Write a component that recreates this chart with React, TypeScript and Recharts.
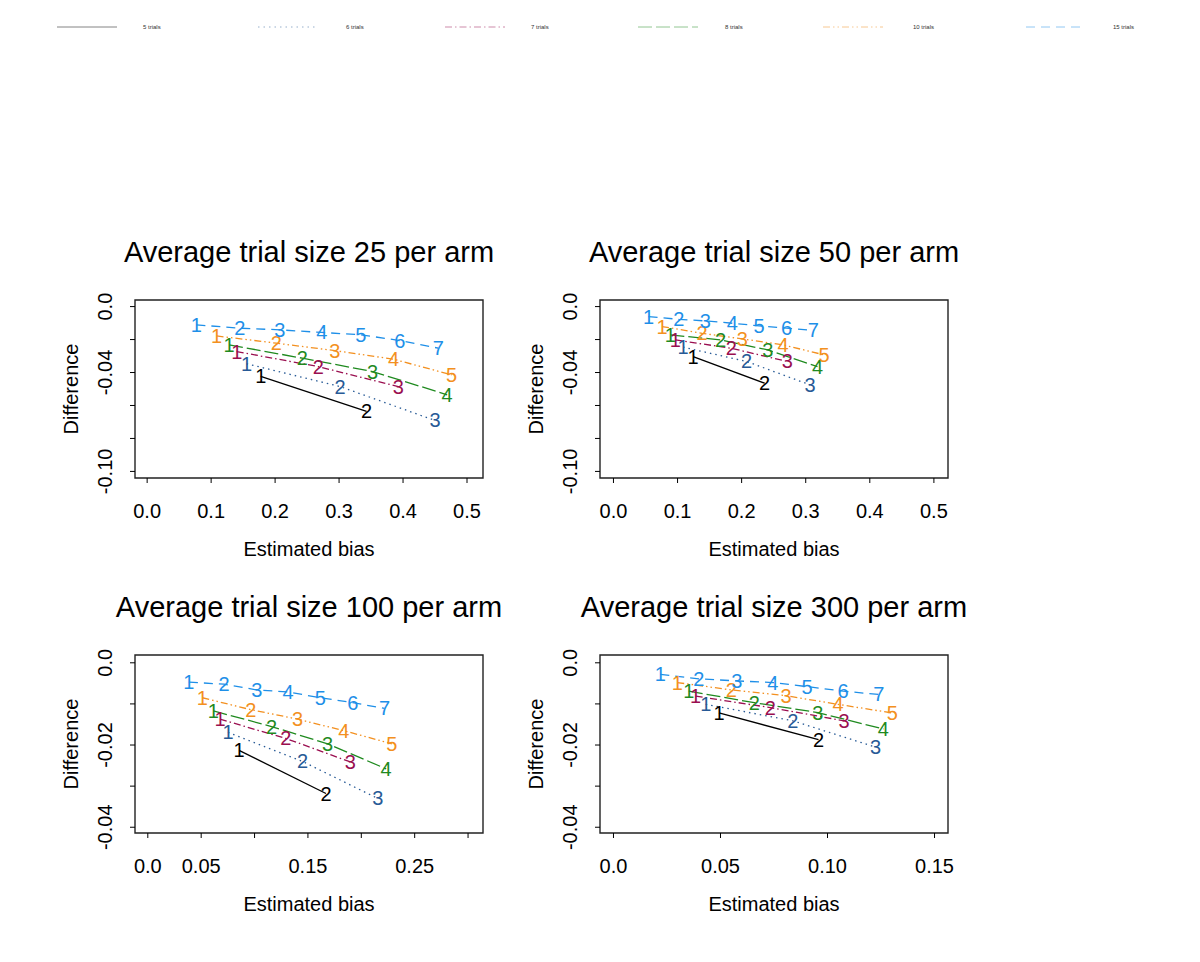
import React from "react";
import { LineChart, Line, XAxis, YAxis, LabelList, Label, ReferenceArea } from "recharts";

const FONT = '"Liberation Sans", Arial, Helvetica, sans-serif';

// trial counts shown in the legend, with the colour / line type of each series
const trialNames = ["5 trials", "6 trials", "7 trials", "8 trials", "10 trials", "15 trials"];
const trialColors = ["#000000", "#275a96", "#9a0f50", "#1f8a1f", "#f39020", "#1e8fe8"];
const trialDashes = ["", "1.5 4", "7 3 1.5 3", "14 4", "7 3 1.5 3 1.5 3", "9 6"];

// [estimated bias, difference] per series
// average trial size 25 per arm
const arm25_t5 = [[0.1775, -0.0424], [0.343, -0.0636]];
const arm25_t6 = [[0.1555, -0.0347], [0.3015, -0.0485], [0.45, -0.0691]];
const arm25_t7 = [[0.14, -0.0273], [0.2675, -0.0364], [0.3925, -0.0485]];
const arm25_t8 = [[0.128, -0.0232], [0.2425, -0.0313], [0.3525, -0.0394], [0.469, -0.0535]];
const arm25_t10 = [[0.1085, -0.0178], [0.202, -0.0222], [0.2935, -0.0267], [0.385, -0.0319], [0.476, -0.0414]];
const arm25_t15 = [[0.077, -0.0111], [0.145, -0.0131], [0.2075, -0.0141], [0.273, -0.0157], [0.334, -0.0171], [0.395, -0.0206], [0.455, -0.0252]];

// average trial size 50 per arm
const arm50_t5 = [[0.1243, -0.0303], [0.2359, -0.0465]];
const arm50_t6 = [[0.1086, -0.0246], [0.2077, -0.0333], [0.3068, -0.0475]];
const arm50_t7 = [[0.0966, -0.0202], [0.1838, -0.0253], [0.2714, -0.0333]];
const arm50_t8 = [[0.0888, -0.0172], [0.167, -0.0202], [0.241, -0.0263], [0.3184, -0.0364]];
const arm50_t10 = [[0.0757, -0.0121], [0.1383, -0.0162], [0.201, -0.0196], [0.2646, -0.0232], [0.3288, -0.0293]];
const arm50_t15 = [[0.0548, -0.0061], [0.1018, -0.0077], [0.1435, -0.0087], [0.1853, -0.0101], [0.227, -0.0117], [0.27, -0.0131], [0.312, -0.0145]];

// average trial size 100 per arm
const arm100_t5 = [[0.0855, -0.0213], [0.1669, -0.0318]];
const arm100_t6 = [[0.0751, -0.0169], [0.145, -0.024], [0.2154, -0.033]];
const arm100_t7 = [[0.0676, -0.0137], [0.1293, -0.0184], [0.1897, -0.0241]];
const arm100_t8 = [[0.0614, -0.0117], [0.1159, -0.0155], [0.1685, -0.0197], [0.2233, -0.0258]];
const arm100_t10 = [[0.0511, -0.0085], [0.0965, -0.0114], [0.1403, -0.0137], [0.1835, -0.0165], [0.2286, -0.0197]];
const arm100_t15 = [[0.0385, -0.0047], [0.0714, -0.0052], [0.1021, -0.0066], [0.1315, -0.0071], [0.1616, -0.0085], [0.192, -0.0097], [0.2217, -0.0111]];

// average trial size 300 per arm
const arm300_t5 = [[0.0493, -0.0122], [0.0958, -0.0187]];
const arm300_t6 = [[0.0431, -0.0101], [0.0838, -0.0141], [0.1224, -0.0205]];
const arm300_t7 = [[0.0384, -0.0081], [0.0733, -0.0109], [0.1077, -0.0141]];
const arm300_t8 = [[0.0352, -0.0069], [0.0658, -0.0097], [0.0955, -0.0121], [0.1261, -0.0161]];
const arm300_t10 = [[0.0298, -0.0048], [0.0551, -0.0066], [0.0806, -0.008], [0.1049, -0.0101], [0.1303, -0.0122]];
const arm300_t15 = [[0.0219, -0.0028], [0.0399, -0.0039], [0.0576, -0.0044], [0.0744, -0.0048], [0.0905, -0.0058], [0.1073, -0.0069], [0.124, -0.0077]];

// axis ticks and the labels R actually printed (blank = label dropped)
const xTicksHalf = [0, 0.1, 0.2, 0.3, 0.4, 0.5];
const xLabelsHalf = ["0.0", "0.1", "0.2", "0.3", "0.4", "0.5"];
const xTicks100 = [0, 0.05, 0.1, 0.15, 0.2, 0.25, 0.3];
const xLabels100 = ["0.0", "0.05", "", "0.15", "", "0.25", ""];
const xTicks300 = [0, 0.05, 0.1, 0.15];
const xLabels300 = ["0.0", "0.05", "0.10", "0.15"];
const yTicksWide = [0, -0.02, -0.04, -0.06, -0.08, -0.1];
const yLabelsWide = ["0.0", "", "-0.04", "", "", "-0.10"];
const yTicksNarrow = [0, -0.01, -0.02, -0.03, -0.04];
const yLabelsNarrow = ["0.0", "", "-0.02", "", "-0.04"];

const BOX_W = 348;
const BOX_H = 178;

const toPoints = (pairs: number[][]) => pairs.map(([x, y], i) => ({ x, y, n: i + 1 }));

const labelFor = (ticks: number[], labels: string[], v: number) => {
  const i = ticks.findIndex((t) => Math.abs(t - v) < 1e-9);
  return i >= 0 ? labels[i] : "";
};

interface PanelProps {
  title: string;
  left: number;
  top: number;
  series: number[][][];
  xDomain: [number, number];
  yDomain: [number, number];
  xTicks: number[];
  xLabels: string[];
  yTicks: number[];
  yLabels: string[];
}

function Panel({ title, left, top, series, xDomain, yDomain, xTicks, xLabels, yTicks, yLabels }: PanelProps) {
  const XTick = (p: any) => (
    <text x={p.x} y={p.y + 28} textAnchor="middle" dominantBaseline="central" fontSize={20} fontFamily={FONT} fill="#000">
      {labelFor(xTicks, xLabels, p.payload.value)}
    </text>
  );
  const YTick = (p: any) => (
    <text
      x={p.x - 25}
      y={p.y}
      transform={`rotate(-90, ${p.x - 25}, ${p.y})`}
      textAnchor="middle"
      dominantBaseline="central"
      fontSize={20}
      fontFamily={FONT}
      fill="#000"
    >
      {labelFor(yTicks, yLabels, p.payload.value)}
    </text>
  );

  return (
    <>
      <div
        style={{
          position: "absolute",
          left: left - 60,
          top: top - 66,
          width: BOX_W + 120,
          textAlign: "center",
          fontFamily: FONT,
          fontSize: 29,
          lineHeight: "36px",
          whiteSpace: "nowrap",
        }}
      >
        {title}
      </div>
      <div style={{ position: "absolute", left: left - 100, top: top - 20 }}>
        <LineChart width={BOX_W + 120} height={BOX_H + 120} margin={{ top: 20, right: 20, bottom: 0, left: 0 }}>
          <XAxis
            type="number"
            dataKey="x"
            domain={xDomain}
            allowDataOverflow
            ticks={xTicks}
            interval={0}
            axisLine={false}
            tickSize={5}
            tickMargin={0}
            tick={<XTick />}
            tickLine={{ stroke: "#000" }}
            height={100}
          >
            <Label
              content={(p: any) => {
                const vb = p.viewBox || {};
                return (
                  <text x={vb.x + vb.width / 2} y={vb.y + 71} textAnchor="middle" dominantBaseline="central" fontSize={20} fontFamily={FONT}>
                    Estimated bias
                  </text>
                );
              }}
            />
          </XAxis>
          <YAxis
            type="number"
            dataKey="y"
            domain={yDomain}
            allowDataOverflow
            ticks={yTicks}
            interval={0}
            axisLine={false}
            tickSize={5}
            tickMargin={0}
            tick={<YTick />}
            tickLine={{ stroke: "#000" }}
            width={100}
          >
            <Label
              content={(p: any) => {
                const vb = p.viewBox || {};
                const cx = vb.x + vb.width - 64;
                const cy = vb.y + vb.height / 2;
                return (
                  <text x={cx} y={cy} transform={`rotate(-90, ${cx}, ${cy})`} textAnchor="middle" dominantBaseline="central" fontSize={20} fontFamily={FONT}>
                    Difference
                  </text>
                );
              }}
            />
          </YAxis>
          <ReferenceArea x1={xDomain[0]} x2={xDomain[1]} y1={yDomain[0]} y2={yDomain[1]} fill="none" stroke="#222" strokeWidth={1.4} fillOpacity={0} />
          {series.map((pairs, si) => (
            <Line
              key={trialNames[si]}
              data={toPoints(pairs)}
              dataKey="y"
              type="linear"
              stroke={trialColors[si]}
              strokeWidth={1.3}
              strokeDasharray={trialDashes[si]}
              dot={false}
              activeDot={false}
              isAnimationActive={false}
            >
              <LabelList
                dataKey="n"
                content={(p: any) => {
                  const x = p.x ?? p.viewBox?.x;
                  const y = p.y ?? p.viewBox?.y;
                  return (
                    <text x={x} y={y} textAnchor="middle" dominantBaseline="central" fontSize={20} fontFamily={FONT} fill={trialColors[si]}>
                      {p.value}
                    </text>
                  );
                }}
              />
            </Line>
          ))}
        </LineChart>
      </div>
    </>
  );
}

const legendLineX = [57, 258, 445, 638, 823, 1026];
const legendTextX = [143, 346, 531, 725, 913, 1113];

function TopLegend() {
  return (
    <svg width={1200} height={45} style={{ position: "absolute", left: 0, top: 0 }}>
      {trialNames.map((name, i) => (
        <g key={name}>
          <line x1={legendLineX[i]} x2={legendLineX[i] + 60} y1={27} y2={27} stroke={trialColors[i]} strokeWidth={0.8} strokeDasharray={trialDashes[i]} opacity={0.6} />
          <text x={legendTextX[i]} y={27} dominantBaseline="central" fontSize={6} fontFamily={FONT} fill="#333">
            {name}
          </text>
        </g>
      ))}
    </svg>
  );
}

export default function App() {
  return (
    <div style={{ position: "absolute", left: 0, top: 0, width: 1200, height: 962, background: "#fff" }}>
      <TopLegend />
      <Panel
        title="Average trial size 25 per arm"
        left={135}
        top={300}
        series={[arm25_t5, arm25_t6, arm25_t7, arm25_t8, arm25_t10, arm25_t15]}
        xDomain={[-0.019, 0.525]}
        yDomain={[-0.104, 0.004]}
        xTicks={xTicksHalf}
        xLabels={xLabelsHalf}
        yTicks={yTicksWide}
        yLabels={yLabelsWide}
      />
      <Panel
        title="Average trial size 50 per arm"
        left={600}
        top={300}
        series={[arm50_t5, arm50_t6, arm50_t7, arm50_t8, arm50_t10, arm50_t15]}
        xDomain={[-0.021, 0.522]}
        yDomain={[-0.104, 0.004]}
        xTicks={xTicksHalf}
        xLabels={xLabelsHalf}
        yTicks={yTicksWide}
        yLabels={yLabelsWide}
      />
      <Panel
        title="Average trial size 100 per arm"
        left={135}
        top={655}
        series={[arm100_t5, arm100_t6, arm100_t7, arm100_t8, arm100_t10, arm100_t15]}
        xDomain={[-0.012, 0.314]}
        yDomain={[-0.0414, 0.0019]}
        xTicks={xTicks100}
        xLabels={xLabels100}
        yTicks={yTicksNarrow}
        yLabels={yLabelsNarrow}
      />
      <Panel
        title="Average trial size 300 per arm"
        left={600}
        top={655}
        series={[arm300_t5, arm300_t6, arm300_t7, arm300_t8, arm300_t10, arm300_t15]}
        xDomain={[-0.0063, 0.1563]}
        yDomain={[-0.0414, 0.0019]}
        xTicks={xTicks300}
        xLabels={xLabels300}
        yTicks={yTicksNarrow}
        yLabels={yLabelsNarrow}
      />
    </div>
  );
}
